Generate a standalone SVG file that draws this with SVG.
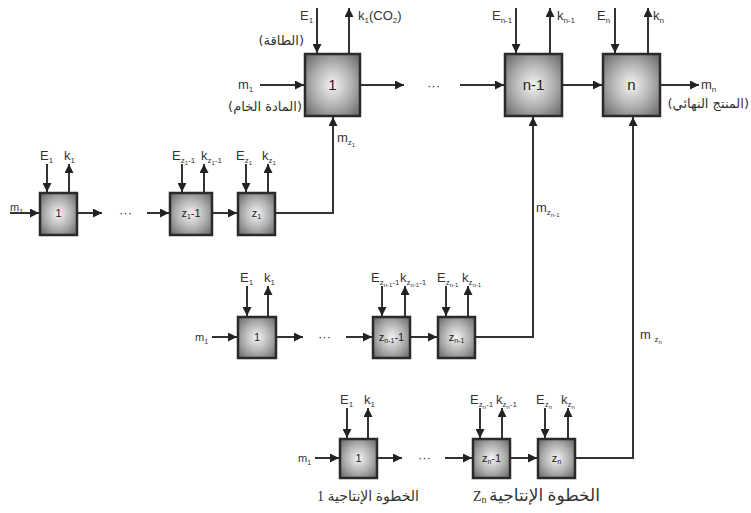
<svg xmlns="http://www.w3.org/2000/svg" width="751" height="513" viewBox="0 0 751 513">
<style>
.bx{fill:url(#g);stroke:#2a2a2a;stroke-width:2.5}
.ln{fill:none;stroke:#333;stroke-width:2}
.ar{fill:none;stroke:#333;stroke-width:2;marker-end:url(#ah)}
.t{font-family:"Liberation Sans",Arial,sans-serif;fill:#333;font-size:13px}
.bt{font-family:"Liberation Sans",Arial,sans-serif;fill:#222;font-size:11px;text-anchor:middle}
.bt2{font-family:"Liberation Sans",Arial,sans-serif;fill:#222;font-size:15px;text-anchor:middle}
.ab{font-family:"DejaVu Sans","Noto Sans",sans-serif;fill:#333;font-size:13px}
.ser{font-family:"Liberation Serif","DejaVu Sans",serif;fill:#333;font-size:14px}
.d{font-family:"Liberation Sans",Arial,sans-serif;fill:#333;font-size:13px}
</style>
<defs>
<radialGradient id="g" cx="50%" cy="50%" r="65%">
<stop offset="0" stop-color="#f4f4f4"/>
<stop offset="0.55" stop-color="#b0b0b0"/>
<stop offset="1" stop-color="#6e6e6e"/>
</radialGradient>
<marker id="ah" viewBox="0 0 10 10" refX="10" refY="5" markerWidth="10" markerHeight="9" markerUnits="userSpaceOnUse" orient="auto">
<path d="M0,0 L10,5 L0,10 Z" fill="#222"/>
</marker>
</defs>

<g id="connectors">
<!-- top row -->
<path class="ar" d="M317,8 V53"/>
<path class="ar" d="M349,54 V8"/>
<path class="ar" d="M260,85 H304"/>
<path class="ar" d="M361,85 H404"/>
<path class="ar" d="M460,85 H504"/>
<path class="ar" d="M516,8 V53"/>
<path class="ar" d="M550,54 V8"/>
<path class="ar" d="M563,85 H602"/>
<path class="ar" d="M615,8 V53"/>
<path class="ar" d="M648,54 V8"/>
<path class="ar" d="M661,85 H699"/>
<!-- row 2 -->
<path class="ar" d="M47,164 V192"/>
<path class="ar" d="M69,193 V164"/>
<path class="ar" d="M10,213 H39"/>
<path class="ar" d="M78,213 H102"/>
<path class="ar" d="M147,213 H169"/>
<path class="ar" d="M182,164 V192"/>
<path class="ar" d="M204,193 V164"/>
<path class="ar" d="M213,213 H237"/>
<path class="ar" d="M246,164 V192"/>
<path class="ar" d="M268,193 V164"/>
<path class="ar" d="M276,213 H333 V117"/>
<!-- row 3 -->
<path class="ar" d="M247,286 V316"/>
<path class="ar" d="M268,317 V286"/>
<path class="ar" d="M212,337 H237"/>
<path class="ar" d="M277,337 H303"/>
<path class="ar" d="M346,337 H372"/>
<path class="ar" d="M382,286 V316"/>
<path class="ar" d="M405,317 V286"/>
<path class="ar" d="M411,337 H437"/>
<path class="ar" d="M446,286 V316"/>
<path class="ar" d="M468,317 V286"/>
<path class="ar" d="M476,337 H533 V117"/>
<!-- row 4 -->
<path class="ar" d="M347,408 V438"/>
<path class="ar" d="M368,439 V408"/>
<path class="ar" d="M315,458 H339"/>
<path class="ar" d="M378,458 H402"/>
<path class="ar" d="M445,458 H472"/>
<path class="ar" d="M480,408 V438"/>
<path class="ar" d="M502,439 V408"/>
<path class="ar" d="M511,458 H537"/>
<path class="ar" d="M545,408 V438"/>
<path class="ar" d="M568,439 V408"/>
<path class="ar" d="M576,458 H633 V117"/>
</g>

<!-- top row nodes -->
<g id="top1"><rect class="bx" x="305" y="54" width="55" height="62"/><text class="bt2" x="332.5" y="90">1</text></g>
<g id="topn1"><rect class="bx" x="505" y="54" width="57" height="62"/><text class="bt2" x="533.5" y="90">n-1</text></g>
<g id="topn"><rect class="bx" x="603" y="54" width="57" height="62"/><text class="bt2" x="631.5" y="90">n</text></g>

<!-- row 2 -->
<g id="r2b1"><rect class="bx" x="40" y="193" width="37" height="42"/><text class="bt" x="58.5" y="217">1</text></g>
<g id="r2b2"><rect class="bx" x="170" y="193" width="42" height="42"/><text class="bt" x="191" y="217">z<tspan font-size="7" dy="2">1</tspan><tspan dy="-2">-1</tspan></text></g>
<g id="r2b3"><rect class="bx" x="238" y="193" width="37" height="42"/><text class="bt" x="256.5" y="217">z<tspan font-size="7" dy="2">1</tspan></text></g>

<!-- row 3 -->
<g id="r3b1"><rect class="bx" x="238" y="317" width="38" height="41"/><text class="bt" x="257" y="341">1</text></g>
<g id="r3b2"><rect class="bx" x="373" y="317" width="37" height="41"/><text class="bt" x="391.5" y="341">z<tspan font-size="7" dy="2">n-1</tspan><tspan dy="-2">-1</tspan></text></g>
<g id="r3b3"><rect class="bx" x="438" y="317" width="37" height="41"/><text class="bt" x="456.5" y="341">z<tspan font-size="7" dy="2">n-1</tspan></text></g>

<!-- row 4 -->
<g id="r4b1"><rect class="bx" x="340" y="439" width="37" height="39"/><text class="bt" x="358.5" y="462">1</text></g>
<g id="r4b2"><rect class="bx" x="473" y="439" width="37" height="39"/><text class="bt" x="491.5" y="462">z<tspan font-size="7" dy="2">n</tspan><tspan dy="-2">-1</tspan></text></g>
<g id="r4b3"><rect class="bx" x="538" y="439" width="37" height="39"/><text class="bt" x="556.5" y="462">z<tspan font-size="7" dy="2">n</tspan></text></g>

<g id="labels">
<!-- top -->
<text class="t" x="300" y="20">E<tspan font-size="8" dy="3">1</tspan></text>
<text class="ab" x="304" y="45" text-anchor="start" direction="rtl">(الطاقة)</text>
<text class="t" x="358" y="20">k<tspan font-size="8" dy="3">1</tspan><tspan dy="-3">(CO</tspan><tspan font-size="8" dy="3">2</tspan><tspan dy="-3">)</tspan></text>
<text class="t" x="238" y="89">m<tspan font-size="8" dy="3">1</tspan></text>
<text class="ab" x="302" y="111" text-anchor="start" direction="rtl">(المادة الخام)</text>
<text class="d" x="427" y="90">···</text>
<text class="t" x="492" y="20">E<tspan font-size="8" dy="3">n-1</tspan></text>
<text class="t" x="557" y="20">k<tspan font-size="8" dy="3">n-1</tspan></text>
<text class="t" x="597" y="20">E<tspan font-size="8" dy="3">n</tspan></text>
<text class="t" x="653" y="20">k<tspan font-size="8" dy="3">n</tspan></text>
<text class="t" x="701" y="89">m<tspan font-size="8" dy="3">n</tspan></text>
<text class="ab" x="749" y="108" text-anchor="start" direction="rtl">(المنتج النهائي)</text>
<text class="t" x="337" y="142">m<tspan font-size="8" dy="3">z</tspan><tspan font-size="6" dy="2">1</tspan></text>
<text class="t" x="536" y="212">m<tspan font-size="8" dy="3">z</tspan><tspan font-size="6" dy="2">n-1</tspan></text>
<text class="t" x="640" y="339">m <tspan font-size="8" dy="3">z</tspan><tspan font-size="6" dy="2">n</tspan></text>
<!-- row 2 -->
<text class="t" x="40" y="160">E<tspan font-size="8" dy="3">1</tspan></text>
<text class="t" x="64" y="160">k<tspan font-size="8" dy="3">1</tspan></text>
<text class="t" x="10" y="211" style="font-size:11px">m<tspan font-size="7" dy="3">1</tspan></text>
<text class="d" x="119" y="217">···</text>
<text class="t" x="172" y="160">E<tspan font-size="8" dy="3">z</tspan><tspan font-size="6" dy="2">1</tspan><tspan font-size="8" dy="-2">-1</tspan></text>
<text class="t" x="201" y="160">k<tspan font-size="8" dy="3">z</tspan><tspan font-size="6" dy="2">1</tspan><tspan font-size="8" dy="-2">-1</tspan></text>
<text class="t" x="236" y="160">E<tspan font-size="8" dy="3">z</tspan><tspan font-size="6" dy="2">1</tspan></text>
<text class="t" x="262" y="160">k<tspan font-size="8" dy="3">z</tspan><tspan font-size="6" dy="2">1</tspan></text>
<!-- row 3 -->
<text class="t" x="240" y="282">E<tspan font-size="8" dy="3">1</tspan></text>
<text class="t" x="264" y="282">k<tspan font-size="8" dy="3">1</tspan></text>
<text class="t" x="195" y="341" style="font-size:11px">m<tspan font-size="7" dy="3">1</tspan></text>
<text class="d" x="318" y="341">···</text>
<text class="t" x="371" y="282">E<tspan font-size="8" dy="3">z</tspan><tspan font-size="6" dy="2">n-1</tspan><tspan font-size="8" dy="-2">-1</tspan></text>
<text class="t" x="400" y="282">k<tspan font-size="8" dy="3">z</tspan><tspan font-size="6" dy="2">n-1</tspan><tspan font-size="8" dy="-2">-1</tspan></text>
<text class="t" x="437" y="282">E<tspan font-size="8" dy="3">z</tspan><tspan font-size="6" dy="2">n-1</tspan></text>
<text class="t" x="462" y="282">k<tspan font-size="8" dy="3">z</tspan><tspan font-size="6" dy="2">n-1</tspan></text>
<!-- row 4 -->
<text class="t" x="340" y="404">E<tspan font-size="8" dy="3">1</tspan></text>
<text class="t" x="364" y="404">k<tspan font-size="8" dy="3">1</tspan></text>
<text class="t" x="298" y="462" style="font-size:11px">m<tspan font-size="7" dy="3">1</tspan></text>
<text class="d" x="418" y="462">···</text>
<text class="t" x="470" y="404">E<tspan font-size="8" dy="3">z</tspan><tspan font-size="6" dy="2">n</tspan><tspan font-size="8" dy="-2">-1</tspan></text>
<text class="t" x="496" y="404">k<tspan font-size="8" dy="3">z</tspan><tspan font-size="6" dy="2">n</tspan><tspan font-size="8" dy="-2">-1</tspan></text>
<text class="t" x="536" y="404">E<tspan font-size="8" dy="3">z</tspan><tspan font-size="6" dy="2">n</tspan></text>
<text class="t" x="561" y="404">k<tspan font-size="8" dy="3">z</tspan><tspan font-size="6" dy="2">n</tspan></text>
<!-- bottom captions -->
<text class="ser" x="368" y="501" text-anchor="middle" direction="rtl">الخطوة الإنتاجية 1</text>
<text class="ser" x="600" y="501" text-anchor="start" direction="rtl" style="font-size:17px">الخطوة الإنتاجية</text>
<text class="ser" x="473" y="501">Z<tspan font-size="10" dy="2">n</tspan></text>
</g>
</svg>
